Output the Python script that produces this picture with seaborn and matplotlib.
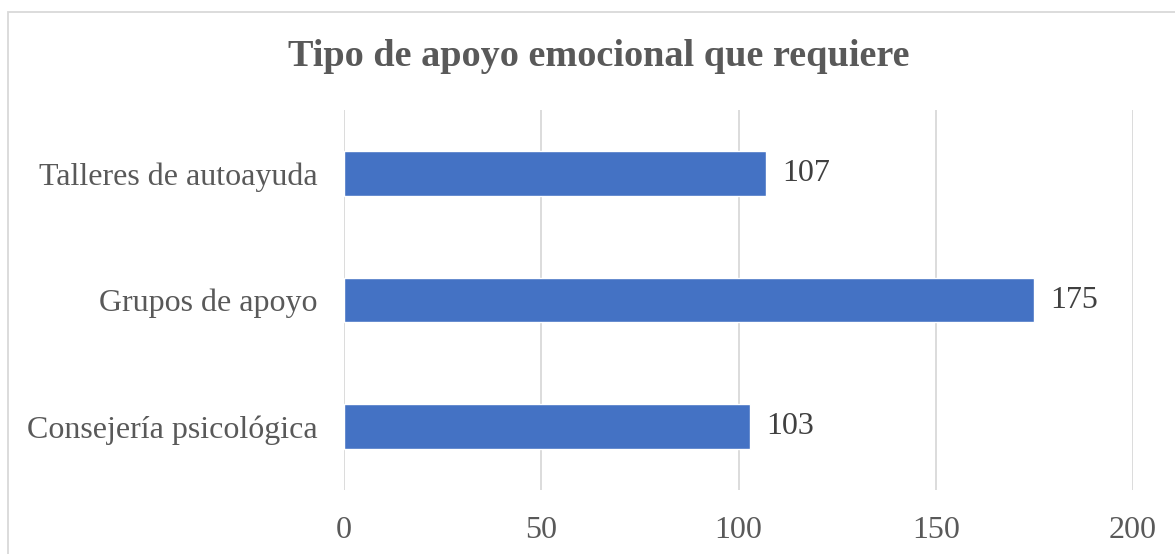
import matplotlib
matplotlib.use("Agg")
import matplotlib.pyplot as plt
import pandas as pd
import seaborn as sns
from matplotlib.patches import Rectangle

# Chart data
categorias = ["Talleres de autoayuda", "Grupos de apoyo", "Consejería psicológica"]
valores = [107, 175, 103]
ticks_x = [0, 50, 100, 150, 200]

df = pd.DataFrame({"Tipo": categorias, "Cantidad": valores})

sns.set_theme(style="white")
plt.rcParams["font.family"] = ["Liberation Serif", "DejaVu Serif"]

texto = "#595959"
fig = plt.figure(figsize=(11.75, 5.54), dpi=100)
ax = fig.add_axes([344 / 1175, 1 - 490 / 554, (1133 - 344) / 1175, 380 / 554])

sns.barplot(data=df, x="Cantidad", y="Tipo", color="#4472C4", width=0.355,
            saturation=1, ax=ax, zorder=3)

ax.set_xlim(0, 200)
ax.set_ylim(2.5, -0.5)
ax.set_xticks(ticks_x)
ax.grid(axis="x", color="#D9D9D9", linewidth=1.3, zorder=0)
ax.grid(axis="y", visible=False)
for s in ax.spines.values():
    s.set_visible(False)
ax.set_xlabel("")
ax.set_ylabel("")
ax.tick_params(axis="x", length=0, pad=19, labelsize=23, labelcolor=texto)
ax.tick_params(axis="y", length=0, pad=19, labelsize=23, labelcolor=texto)

# value labels
for cont in ax.containers:
    ax.bar_label(cont, labels=[str(v) for v in valores], padding=11.5,
                 fontsize=23, color="#404040")

fig.text(599 / 1175, 1 - 57 / 554, "Tipo de apoyo emocional que requiere",
         ha="center", va="center", fontsize=27.5, fontweight="bold", color=texto)

# outer chart border
fig.patches.append(Rectangle((8 / 1175, -0.1), 1.2, 1 - 12 / 554 + 0.1,
                             transform=fig.transFigure, fill=False,
                             edgecolor="#D9D9D9", linewidth=1.3))

fig.savefig("out.png", dpi=100)
plt.close(fig)
